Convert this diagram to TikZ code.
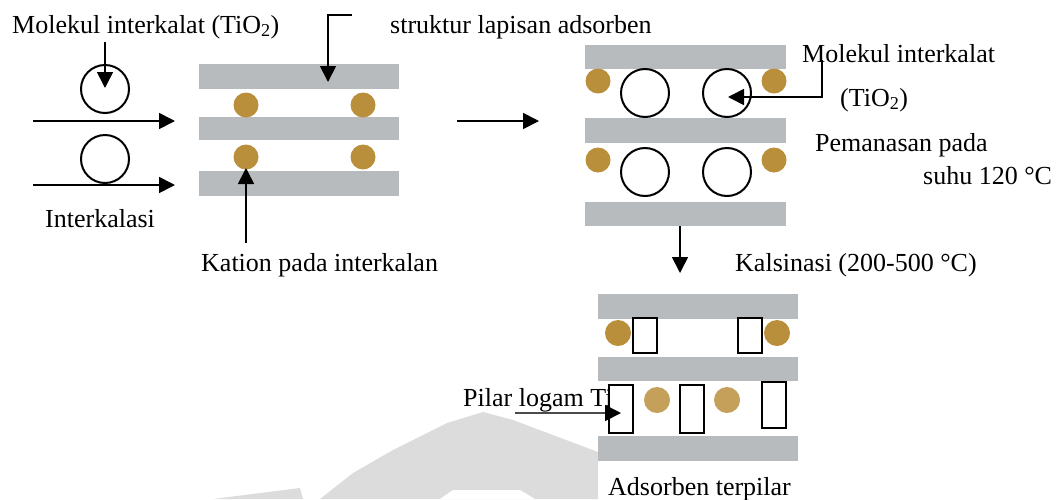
\documentclass[tikz,border=0pt]{standalone}
\usepackage{fontspec}
\setmainfont{Liberation Serif}
\usetikzlibrary{arrows.meta}
\definecolor{layergray}{HTML}{B8BBBE}
\definecolor{cation}{HTML}{BA8F3B}
\definecolor{cationlight}{HTML}{C5A05A}
\definecolor{watermark}{HTML}{DCDCDC}
\tikzset{
  lbl/.style={anchor=base west, inner sep=0pt, font=\fontsize{26}{30}\selectfont},
  arr/.style={line width=1.7pt, -{Triangle[length=16pt,width=16pt]}},
  greyarr/.style={line width=1.7pt, draw=black!70, -{Triangle[length=16pt,width=16pt,color=black]}},
  layer/.style={fill=layergray},
  ion/.style={fill=cation},
  ionlight/.style={fill=cationlight},
  molecule/.style={draw=black, line width=2pt},
  pillar/.style={draw=black, fill=white, line width=1.7pt},
}
\begin{document}
\begin{tikzpicture}[x=1pt,y=-1pt]
\useasboundingbox (0,0) rectangle (1056,499);

% faint background emblem
\fill[watermark] (320,499) -- (353,473) -- (393,450) -- (447,423) -- (483,412)
  -- (513,420) -- (598,452) -- (598,499) -- cycle;
\fill[white] (440,499) -- (453,490) -- (520,490) -- (535,499) -- cycle;
\fill[watermark] (213,499) -- (300,488) -- (303,499) -- cycle;

% ---------- stage 1: layered adsorbent with cations ----------
\fill[layer] (199,64) rectangle (399,89);
\fill[layer] (199,117) rectangle (399,140);
\fill[layer] (199,171) rectangle (399,196);
\foreach \x/\y in {246/105, 363/105, 246/157, 363/157}
  \fill[ion] (\x,\y) circle[radius=12.5];
\draw[molecule] (105,89) circle[radius=24];
\draw[molecule] (105,159) circle[radius=24];

% ---------- stage 2: intercalated molecules ----------
\fill[layer] (585,45) rectangle (786,69);
\fill[layer] (585,118) rectangle (786,143);
\fill[layer] (585,202) rectangle (786,226);
\foreach \x/\y in {598/81, 774/81, 598/160, 774/160}
  \fill[ion] (\x,\y) circle[radius=12.5];
\foreach \x/\y in {645/93, 727/93, 645/172, 727/172}
  \draw[molecule] (\x,\y) circle[radius=24];

% ---------- labels ----------
\node[lbl] (tMol) at (12,33) {Molekul interkalat (TiO\textsubscript{2})};
\node[lbl] (tStr) at (390,33) {struktur lapisan adsorben};
\node[lbl] (tInt) at (45,227) {Interkalasi};
\node[lbl] (tKat) at (201,271) {Kation pada interkalan};
\node[lbl] (tMol2) at (802,62) {Molekul interkalat};
\node[lbl] (tTiO) at (840,106) {(TiO\textsubscript{2})};
\node[lbl] (tPem) at (815,151) {Pemanasan pada};
\node[lbl] (tSuhu) at (923,184) {suhu 120 °C};
\node[lbl] (tKal) at (735,271) {Kalsinasi (200-500 °C)};
\node[lbl] (tPil) at (463,406) {Pilar logam Ti};
\node[lbl] (tAds) at (608,495) {Adsorben terpilar};

% ---------- connector end points ----------
\coordinate (molTop) at (105,42);
\coordinate (molTip) at (105,88);
\coordinate (inA) at (33,121);
\coordinate (inAtip) at (175,121);
\coordinate (inB) at (33,185);
\coordinate (inBtip) at (175,185);
\coordinate (strStart) at (352,15);
\coordinate (strBend) at (328,15);
\coordinate (strTip) at (328,82);
\coordinate (katStart) at (246,243);
\coordinate (katTip) at (246,168);
\coordinate (stepA) at (457,121);
\coordinate (stepAtip) at (539,121);
\coordinate (mol2Start) at (822,60);
\coordinate (mol2Bend) at (822,97);
\coordinate (mol2Tip) at (728,97);
\coordinate (calStart) at (680,226);
\coordinate (calTip) at (680,273);
\coordinate (pilStart) at (515,413);
\coordinate (pilTip) at (621,413);

\draw[arr] (molTop) -- (molTip);
\draw[arr] (inA) -- (inAtip);
\draw[arr] (inB) -- (inBtip);
\draw[arr] (strStart) -- (strBend) -- (strTip);
\draw[arr] (katStart) -- (katTip);
\draw[arr] (stepA) -- (stepAtip);
\draw[arr] (mol2Start) -- (mol2Bend) -- (mol2Tip);
\draw[arr] (calStart) -- (calTip);

% ---------- stage 3: pillared adsorbent ----------
\fill[layer] (598,294) rectangle (798,319);
\fill[layer] (598,357) rectangle (798,381);
\fill[layer] (598,436) rectangle (798,461);
\fill[ion] (618,333) circle[radius=13];
\fill[ion] (777,333) circle[radius=13];
\fill[ionlight] (657,400) circle[radius=13];
\fill[ionlight] (727,400) circle[radius=13];
\draw[pillar] (633,318) rectangle (657,353);
\draw[pillar] (738,318) rectangle (762,353);
\draw[pillar] (609,385) rectangle (633,433);
\draw[pillar] (680,385) rectangle (704,433);
\draw[pillar] (762,382) rectangle (786,428);
\draw[greyarr] (pilStart) -- (pilTip);
\end{tikzpicture}
\end{document}
